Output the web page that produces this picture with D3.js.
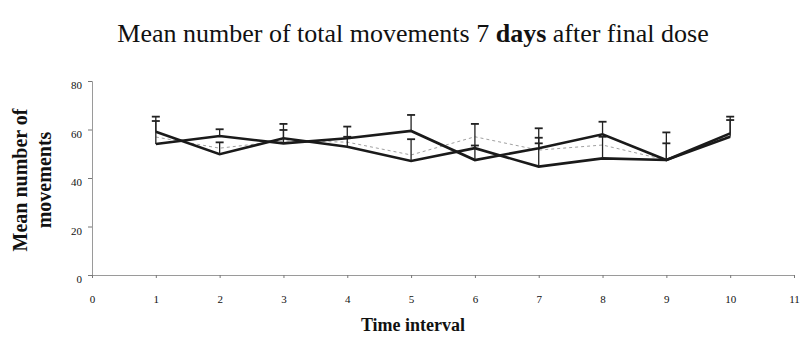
<!DOCTYPE html>
<html>
<head>
<meta charset="utf-8">
<script src="https://cdn.jsdelivr.net/npm/d3@7"></script>
<style>
  body { margin: 0; background: #fff; }
  svg, svg text, svg tspan { font-family: "Liberation Serif", "DejaVu Serif", serif !important; }
  svg text { fill: #111; }
</style>
</head>
<body>
<svg id="chart"></svg>
<script>
// data
const intervals = [1, 2, 3, 4, 5, 6, 7, 8, 9, 10];
const groupA = [59.1, 49.8, 56.4, 52.9, 47.0, 52.3, 44.7, 48.1, 47.4, 57.0];
const groupAErr = [4.4, 4.9, 5.9, 4.1, 9.0, 10.0, 11.9, 8.9, 11.4, 6.9];
const groupB = [54.0, 57.3, 54.3, 56.4, 59.4, 47.4, 52.3, 58.0, 47.4, 58.4];
const groupBErr = [11.3, 2.8, 5.5, 4.8, 6.6, 6.0, 2.0, 5.2, 6.9, 6.9];
const groupC = [56.9, 52.3, 55.3, 54.8, 49.5, 57.0, 51.5, 53.6, 47.4, 57.7];
const groupCErr = [0, 0, 0, 0, 0, 0, 9.0, 0, 0, 0];
const xTicks = [0, 1, 2, 3, 4, 5, 6, 7, 8, 9, 10, 11];
const yTicks = [0, 20, 40, 60, 80];

const W = 805, H = 340;
const svg = d3.select("#chart").attr("width", W).attr("height", H)
    .attr("font-family", "Liberation Serif, serif");

const x = d3.scaleLinear().domain([0, 11]).range([92, 794]);
const y = d3.scaleLinear().domain([0, 80]).range([275, 81]);

// title
const title = svg.append("text")
    .attr("x", 413).attr("y", 42)
    .attr("text-anchor", "middle")
    .style("font-size", "26px");
title.append("tspan").text("Mean number of total movements 7 ");
title.append("tspan").style("font-weight", "bold").text("days");
title.append("tspan").text(" after final dose");

// axes
const yAxis = svg.append("g")
    .attr("transform", `translate(${x(0)},0)`)
    .call(d3.axisLeft(y).tickValues(yTicks).tickSize(4).tickPadding(6));
const xAxis = svg.append("g")
    .attr("transform", `translate(0,${y(0)})`)
    .call(d3.axisBottom(x).tickValues(xTicks).tickSize(3).tickPadding(17));
[yAxis, xAxis].forEach(a => {
    a.attr("font-family", null);
    a.select(".domain").attr("stroke", "#9a9a9a").attr("stroke-width", 1);
    a.selectAll(".tick line").attr("stroke", "#777");
    a.selectAll(".tick text")
        .style("font-size", "11px")
        .attr("fill", "#333");
});
yAxis.selectAll(".tick text").attr("dy", "0.7em");

// axis titles
svg.append("text")
    .attr("x", 413).attr("y", 331)
    .attr("text-anchor", "middle")
    .style("font-size", "18px").style("font-weight", "bold")
    .text("Time interval");

const yl = svg.append("text")
    .attr("transform", "translate(27,180) rotate(-90)")
    .attr("text-anchor", "middle")
    .style("font-size", "20px").style("font-weight", "bold");
yl.append("tspan").attr("x", 0).attr("dy", 0).text("Mean number of");
yl.append("tspan").attr("x", 0).attr("dy", 24).text("movements");

// series
const series = [
    { vals: groupC, err: groupCErr, color: "#a0a0a0", width: 1, dash: "3,3" },
    { vals: groupA, err: groupAErr, color: "#1a1a1a", width: 2.6, dash: null },
    { vals: groupB, err: groupBErr, color: "#1a1a1a", width: 2.6, dash: null }
];

const line = d3.line().x(d => x(d[0])).y(d => y(d[1]));

series.forEach(s => {
    const pts = intervals.map((t, i) => [t, s.vals[i], s.err[i]]);
    svg.append("path")
        .datum(pts)
        .attr("d", line)
        .attr("fill", "none")
        .attr("stroke", s.color)
        .attr("stroke-width", s.width)
        .attr("stroke-dasharray", s.dash);

    const eb = svg.append("g");
    pts.filter(p => p[2] > 0).forEach(p => {
        const cx = x(p[0]);
        const y0 = y(p[1]), y1 = y(p[1] + p[2]);
        eb.append("line")
            .attr("x1", cx).attr("x2", cx).attr("y1", y0).attr("y2", y1)
            .attr("stroke", "#222").attr("stroke-width", 1.3);
        eb.append("line")
            .attr("x1", cx - 4).attr("x2", cx + 4).attr("y1", y1).attr("y2", y1)
            .attr("stroke", "#222").attr("stroke-width", 1.8);
    });
});
</script>
</body>
</html>
